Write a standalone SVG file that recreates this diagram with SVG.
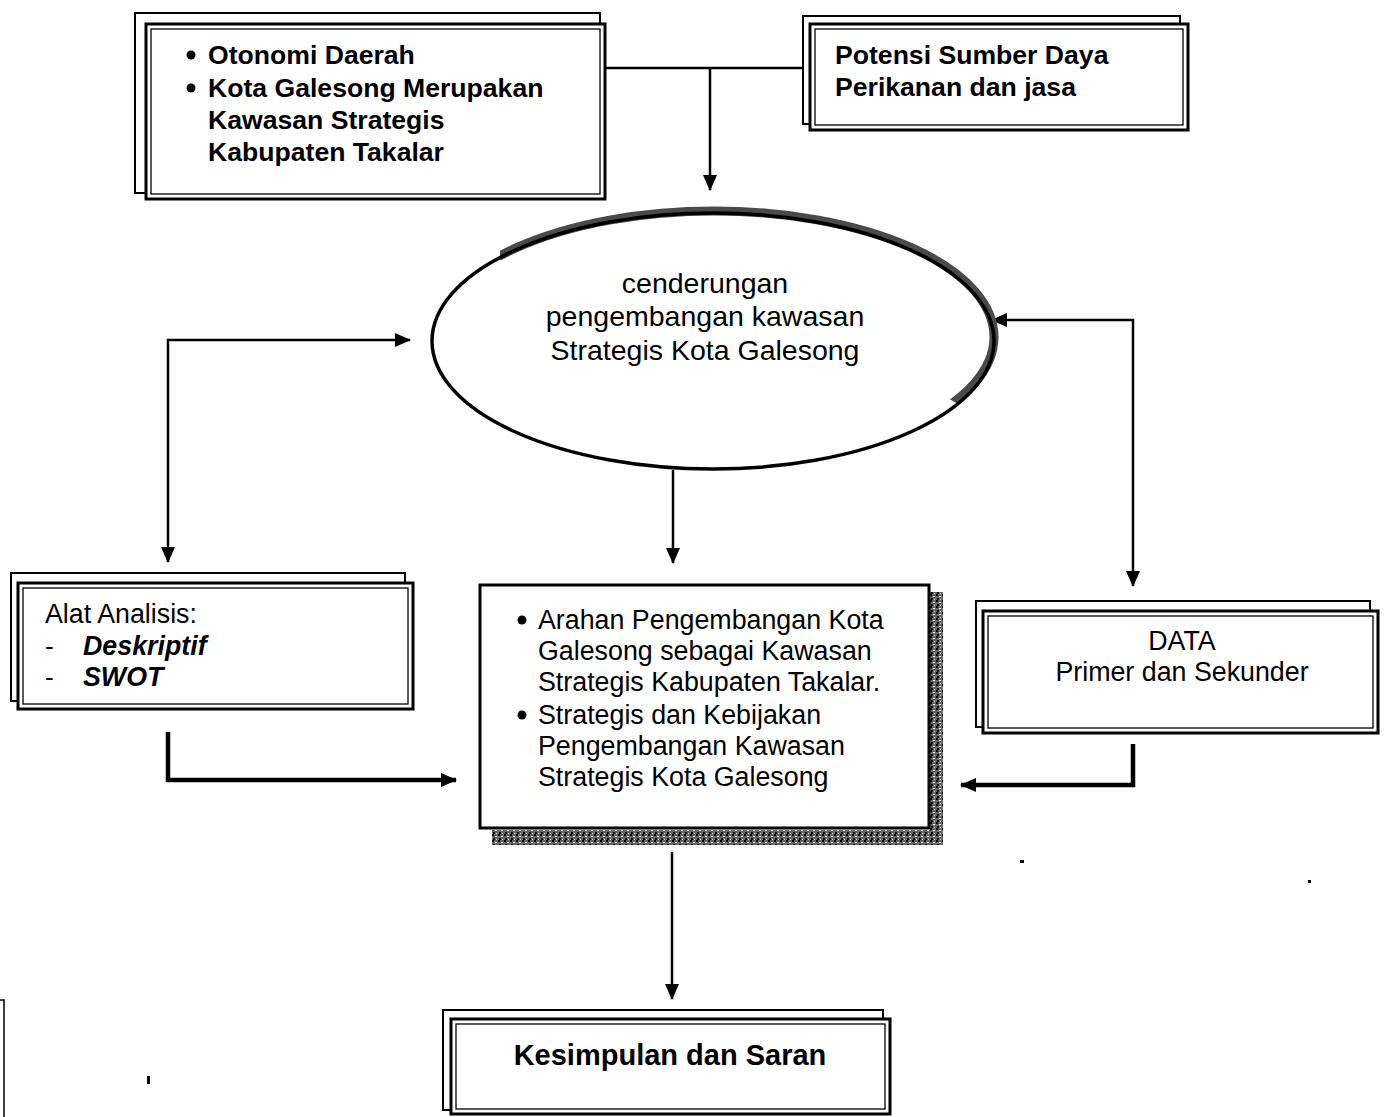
<svg xmlns="http://www.w3.org/2000/svg" width="1386" height="1117" viewBox="0 0 1386 1117">
<style>
text{font-family:"Liberation Sans",Arial,sans-serif;fill:#000;font-size:26px}
.b{font-weight:bold}
.bt{font-weight:bold;font-size:26.6px}
.bi{font-weight:bold;font-style:italic}
.el{font-size:28.5px}
.mid{font-size:26.8px}
.back{fill:none;stroke:#000;stroke-width:2}
.front{fill:#fff;stroke:#000;stroke-width:3}
.inner{fill:none;stroke:#000;stroke-width:1.3}
.con{fill:none;stroke:#000;stroke-width:2.5}
.thick{fill:none;stroke:#000;stroke-width:4.5}
</style>
<defs>
<marker id="ah" markerUnits="userSpaceOnUse" markerWidth="16" markerHeight="14" refX="15" refY="7" orient="auto-start-reverse">
<path d="M0,0 L16,7 L0,14 Z" fill="#000"/>
</marker>
<pattern id="speck" width="6" height="6" patternUnits="userSpaceOnUse">
<rect width="6" height="6" fill="#666"/>
<rect x="0" y="0" width="2" height="2" fill="#000"/>
<rect x="3" y="2" width="2" height="1" fill="#fff"/>
<rect x="1" y="4" width="2" height="2" fill="#111"/>
<rect x="4" y="5" width="1" height="1" fill="#ddd"/>
</pattern>
<clipPath id="shadeClip">
<polygon points="500,200 1010,200 1010,405 960,405 700,260 500,260"/>
</clipPath>
</defs>
<rect width="1386" height="1117" fill="#fff"/>

<g id="connectors">
<path class="con" d="M605,68 H803"/>
<path class="con" d="M710,68 V190" marker-end="url(#ah)"/>
<path class="con" d="M410,340 H168 V562" marker-start="url(#ah)" marker-end="url(#ah)"/>
<path class="con" d="M992,320 H1133 V586" marker-start="url(#ah)" marker-end="url(#ah)"/>
<path class="con" d="M673,470 V563" marker-end="url(#ah)"/>
<path class="thick" d="M168,732 V780 H456" marker-end="url(#ah)"/>
<path class="thick" d="M1133,744 V785 H961" marker-end="url(#ah)"/>
<path class="con" d="M672,852 V999" marker-end="url(#ah)"/>
</g>

<g id="node-otonomi">
<rect class="back" x="135" y="13" width="465" height="180"/>
<rect class="front" x="146" y="24" width="459" height="175"/>
<rect class="inner" x="151" y="29" width="449" height="165"/>
<circle cx="191" cy="55" r="4.5"/>
<text class="bt" x="208" y="64">Otonomi Daerah</text>
<circle cx="191" cy="88" r="4.5"/>
<text class="bt" x="208" y="97">Kota Galesong Merupakan</text>
<text class="bt" x="208" y="129">Kawasan Strategis</text>
<text class="bt" x="208" y="161">Kabupaten Takalar</text>
</g>

<g id="node-potensi">
<rect class="back" x="803" y="16" width="377" height="108"/>
<rect class="front" x="810" y="24" width="378" height="106"/>
<rect class="inner" x="815" y="29" width="368" height="96"/>
<text class="bt" x="835" y="64">Potensi Sumber Daya</text>
<text class="bt" x="835" y="96">Perikanan dan jasa</text>
</g>

<g id="node-kecenderungan">
<ellipse cx="714" cy="337" rx="280" ry="126" fill="none" stroke="#4a4a4a" stroke-width="9" clip-path="url(#shadeClip)"/>
<ellipse cx="713" cy="341" rx="281" ry="128" fill="none" stroke="#000" stroke-width="3.5"/>
<text class="el" x="705" y="293" text-anchor="middle">cenderungan</text>
<text class="el" x="705" y="326" text-anchor="middle">pengembangan kawasan</text>
<text class="el" x="705" y="360" text-anchor="middle">Strategis Kota Galesong</text>
</g>

<g id="node-alat">
<rect class="back" x="11" y="573" width="394" height="128"/>
<rect class="front" x="18" y="583" width="395" height="126"/>
<rect class="inner" x="23" y="588" width="385" height="116"/>
<text class="mid" x="45" y="623">Alat Analisis:</text>
<text x="45" y="655">-</text>
<text class="bi mid" x="83" y="655">Deskriptif</text>
<text x="45" y="686">-</text>
<text class="bi mid" x="83" y="686">SWOT</text>
</g>

<g id="node-arahan">
<rect x="930" y="592" width="13" height="253" fill="url(#speck)"/>
<rect x="492" y="830" width="451" height="15" fill="url(#speck)"/>
<rect class="front" x="480" y="585" width="449" height="243"/>
<circle cx="522" cy="620" r="4.5"/>
<text class="mid" x="538" y="629">Arahan Pengembangan Kota</text>
<text class="mid" x="538" y="660">Galesong sebagai Kawasan</text>
<text class="mid" x="538" y="691">Strategis Kabupaten Takalar.</text>
<circle cx="522" cy="715" r="4.5"/>
<text class="mid" x="538" y="724">Strategis dan Kebijakan</text>
<text class="mid" x="538" y="755">Pengembangan Kawasan</text>
<text class="mid" x="538" y="786">Strategis Kota Galesong</text>
</g>

<g id="node-data">
<rect class="back" x="976" y="601" width="394" height="126"/>
<rect class="front" x="983" y="611" width="395" height="122"/>
<rect class="inner" x="988" y="616" width="385" height="112"/>
<text class="mid" x="1182" y="650" text-anchor="middle">DATA</text>
<text class="mid" x="1182" y="681" text-anchor="middle">Primer dan Sekunder</text>
</g>

<g id="node-kesimpulan">
<rect class="back" x="443" y="1010" width="440" height="100"/>
<rect class="front" x="451" y="1019" width="439" height="95"/>
<rect class="inner" x="456" y="1024" width="429" height="85"/>
<text class="b" x="670" y="1065" text-anchor="middle" style="font-size:29px">Kesimpulan dan Saran</text>
</g>

<g id="marks">
<path d="M0,1000 H4 V1117" fill="none" stroke="#000" stroke-width="1.5"/>
<rect x="147" y="1076" width="3" height="8" fill="#000"/>
<rect x="1020" y="860" width="4" height="3" fill="#000"/>
<rect x="1308" y="880" width="3" height="3" fill="#000"/>
</g>
</svg>
